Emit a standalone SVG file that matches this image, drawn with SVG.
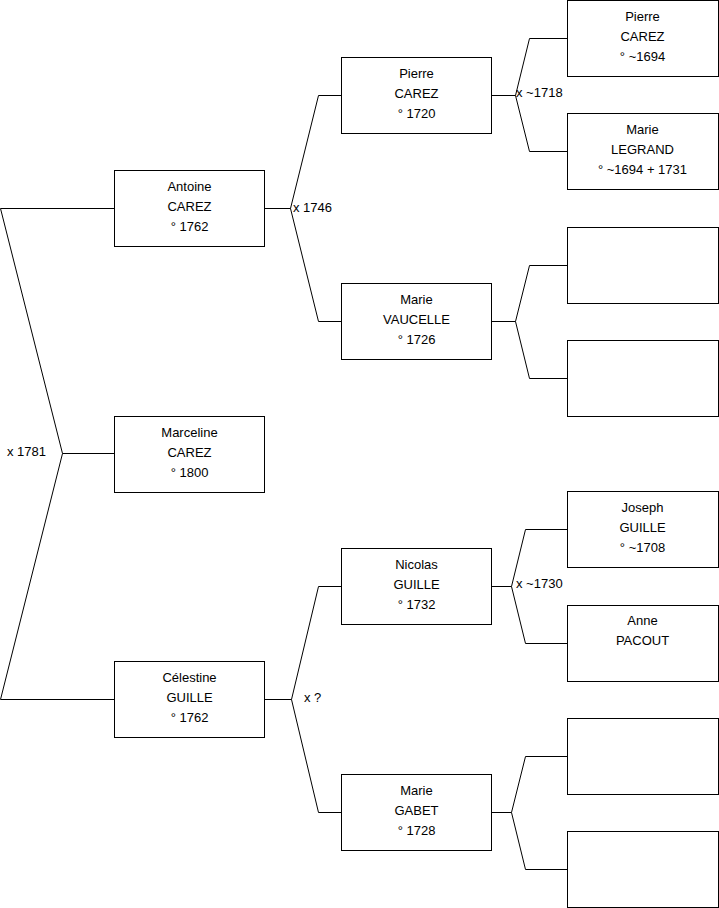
<svg xmlns="http://www.w3.org/2000/svg" width="719" height="908" viewBox="0 0 719 908">
<style>
.b{fill:#fff;stroke:#000;stroke-width:1}
.t{font-family:"Liberation Sans",Arial,sans-serif;font-size:13px;fill:#000;text-anchor:middle}
.l{font-family:"Liberation Sans",Arial,sans-serif;font-size:13px;fill:#000}
.c{fill:none;stroke:#000;stroke-width:1}
</style>
<rect width="719" height="908" fill="#fff"/>
<g id="connectors">
<path class="c" d="M114,208.5H0.5L62.5,453.5L0.5,699.5H114M62.5,453.5H114"/>
<path class="c" d="M265,208.5H290.5M341,95.5H318.5L290.5,208.5L318.5,321.5H341"/>
<path class="c" d="M492,95.5H515.5M567,38.5H529.5L515.5,95.5L529.5,151.5H567"/>
<path class="c" d="M492,321.5H515.5M567,265.5H529.5L515.5,321.5L529.5,378.5H567"/>
<path class="c" d="M265,699.5H291.5M341,586.5H318.5L291.5,699.5L318.5,812.5H341"/>
<path class="c" d="M492,586.5H511.5M567,529.5H525.5L511.5,586.5L525.5,643.5H567"/>
<path class="c" d="M492,812.5H511.5M567,756.5H525.5L511.5,812.5L525.5,869.5H567"/>
<text class="l" x="7" y="456">x 1781</text>
<text class="l" x="293" y="212">x 1746</text>
<text class="l" x="516" y="97">x ~1718</text>
<text class="l" x="304" y="702">x ?</text>
<text class="l" x="516" y="588">x ~1730</text>
</g>
<g id="antoine"><rect class="b" x="114.5" y="170.5" width="150" height="76"/><text class="t" x="189.5" y="191">Antoine</text><text class="t" x="189.5" y="211">CAREZ</text><text class="t" x="189.5" y="231">° 1762</text></g>
<g id="marceline"><rect class="b" x="114.5" y="416.5" width="150" height="76"/><text class="t" x="189.5" y="437">Marceline</text><text class="t" x="189.5" y="457">CAREZ</text><text class="t" x="189.5" y="477">° 1800</text></g>
<g id="celestine"><rect class="b" x="114.5" y="661.5" width="150" height="76"/><text class="t" x="189.5" y="682">Célestine</text><text class="t" x="189.5" y="702">GUILLE</text><text class="t" x="189.5" y="722">° 1762</text></g>
<g id="pierre1720"><rect class="b" x="341.5" y="57.5" width="150" height="76"/><text class="t" x="416.5" y="78">Pierre</text><text class="t" x="416.5" y="98">CAREZ</text><text class="t" x="416.5" y="118">° 1720</text></g>
<g id="marievaucelle"><rect class="b" x="341.5" y="283.5" width="150" height="76"/><text class="t" x="416.5" y="304">Marie</text><text class="t" x="416.5" y="324">VAUCELLE</text><text class="t" x="416.5" y="344">° 1726</text></g>
<g id="nicolas"><rect class="b" x="341.5" y="548.5" width="150" height="76"/><text class="t" x="416.5" y="569">Nicolas</text><text class="t" x="416.5" y="589">GUILLE</text><text class="t" x="416.5" y="609">° 1732</text></g>
<g id="mariegabet"><rect class="b" x="341.5" y="774.5" width="150" height="76"/><text class="t" x="416.5" y="795">Marie</text><text class="t" x="416.5" y="815">GABET</text><text class="t" x="416.5" y="835">° 1728</text></g>
<g id="pierre1694"><rect class="b" x="567.5" y="0.5" width="151" height="76"/><text class="t" x="642.5" y="21">Pierre</text><text class="t" x="642.5" y="41">CAREZ</text><text class="t" x="642.5" y="61">° ~1694</text></g>
<g id="marielegrand"><rect class="b" x="567.5" y="113.5" width="151" height="76"/><text class="t" x="642.5" y="134">Marie</text><text class="t" x="642.5" y="154">LEGRAND</text><text class="t" x="642.5" y="174">° ~1694 + 1731</text></g>
<g id="empty1"><rect class="b" x="567.5" y="227.5" width="151" height="76"/></g>
<g id="empty2"><rect class="b" x="567.5" y="340.5" width="151" height="76"/></g>
<g id="joseph"><rect class="b" x="567.5" y="491.5" width="151" height="76"/><text class="t" x="642.5" y="512">Joseph</text><text class="t" x="642.5" y="532">GUILLE</text><text class="t" x="642.5" y="552">° ~1708</text></g>
<g id="anne"><rect class="b" x="567.5" y="605.5" width="151" height="76"/><text class="t" x="642.5" y="625">Anne</text><text class="t" x="642.5" y="645">PACOUT</text></g>
<g id="empty3"><rect class="b" x="567.5" y="718.5" width="151" height="76"/></g>
<g id="empty4"><rect class="b" x="567.5" y="831.5" width="151" height="76"/></g>
</svg>
